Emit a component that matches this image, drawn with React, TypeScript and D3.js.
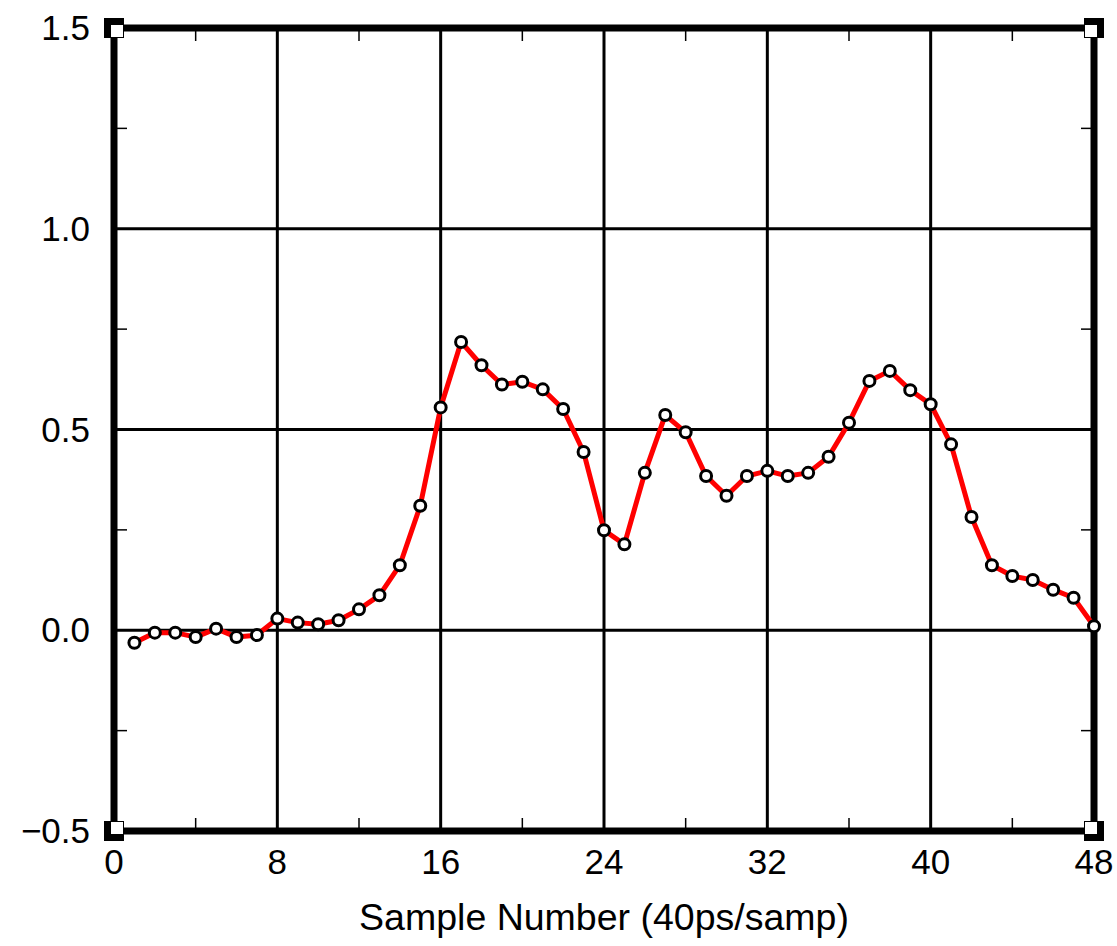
import React from "react";
import * as d3 from "d3";

const samples = d3.range(1, 49);
const values = [
  -0.031, -0.006, -0.006, -0.017, 0.004, -0.017, -0.012, 0.029, 0.019, 0.015,
  0.025, 0.052, 0.087, 0.162, 0.31, 0.555, 0.718, 0.66, 0.612, 0.619,
  0.6, 0.551, 0.444, 0.249, 0.214, 0.392, 0.536, 0.493, 0.384, 0.335,
  0.384, 0.397, 0.384, 0.392, 0.432, 0.517, 0.621, 0.646, 0.598, 0.563,
  0.463, 0.282, 0.162, 0.135, 0.125, 0.101, 0.081, 0.01,
];
const xMajor = [0, 8, 16, 24, 32, 40, 48];
const xMinor = [4, 12, 20, 28, 36, 44];
const yMajor = [-0.5, 0, 0.5, 1.0, 1.5];
const yMinor = [-0.25, 0.25, 0.75, 1.25];
const xTitle = "Sample Number (40ps/samp)";

const W = 1117;
const H = 946;
const L = 114, R = 1094, T = 28, B = 831;

export default function App() {
  const x = d3.scaleLinear().domain([0, 48]).range([L, R]);
  const y = d3.scaleLinear().domain([-0.5, 1.5]).range([B, T]);
  const pts: [number, number][] = samples.map((s, i) => [s, values[i]]);
  const line = d3.line<[number, number]>().x((d) => x(d[0])).y((d) => y(d[1]));
  const font = "'Liberation Sans', Arial, sans-serif";
  const fmtY = (v: number) => (v < 0 ? "\u2212" + Math.abs(v).toFixed(1) : v.toFixed(1));
  const corners: [number, number, number, number][] = [
    [L, T, 1, 1],
    [R, T, -1, 1],
    [L, B, 1, -1],
    [R, B, -1, -1],
  ];
  return (
    <svg
      width={W}
      height={H}
      style={{ position: "absolute", left: 0, top: 0, display: "block", background: "#fff" }}
    >
      {/* grid */}
      {xMajor.filter((v) => v > 0 && v < 48).map((v) => (
        <line key={"gx" + v} x1={x(v)} x2={x(v)} y1={T} y2={B} stroke="#000" strokeWidth={3} />
      ))}
      {yMajor.filter((v) => v > -0.5 && v < 1.5).map((v) => (
        <line key={"gy" + v} x1={L} x2={R} y1={y(v)} y2={y(v)} stroke="#000" strokeWidth={3} />
      ))}
      {/* minor ticks */}
      {xMinor.map((v) => (
        <g key={"mx" + v}>
          <line x1={x(v)} x2={x(v)} y1={T} y2={T + 13} stroke="#000" strokeWidth={1.5} />
          <line x1={x(v)} x2={x(v)} y1={B} y2={B - 13} stroke="#000" strokeWidth={1.5} />
        </g>
      ))}
      {yMinor.map((v) => (
        <g key={"my" + v}>
          <line x1={L} x2={L + 13} y1={y(v)} y2={y(v)} stroke="#000" strokeWidth={1.5} />
          <line x1={R} x2={R - 13} y1={y(v)} y2={y(v)} stroke="#000" strokeWidth={1.5} />
        </g>
      ))}
      {/* frame */}
      <rect x={L} y={T} width={R - L} height={B - T} fill="none" stroke="#000" strokeWidth={7} />
      {corners.map(([cx, cy, dx, dy], i) => (
        <g key={"c" + i}>
          <rect x={cx - 10} y={cy - 10} width={20} height={20} fill="#000" />
          <rect
            x={dx > 0 ? cx - 3 : cx - 9}
            y={dy > 0 ? cy - 3 : cy - 9}
            width={12}
            height={12}
            fill="#fff"
          />
        </g>
      ))}
      {/* data */}
      <path d={line(pts) || ""} fill="none" stroke="#ff0000" strokeWidth={5} strokeLinejoin="round" />
      {pts.map((d, i) => (
        <circle key={"p" + i} cx={x(d[0])} cy={y(d[1])} r={5.5} fill="#fff" stroke="#000" strokeWidth={3} />
      ))}
      {/* tick labels */}
      {xMajor.map((v) => (
        <text key={"tx" + v} x={x(v)} y={874} textAnchor="middle" fontFamily={font} fontSize={35} fill="#000">
          {v}
        </text>
      ))}
      {yMajor.map((v) => (
        <text key={"ty" + v} x={90} y={y(v) + 12} textAnchor="end" fontFamily={font} fontSize={35} fill="#000">
          {fmtY(v)}
        </text>
      ))}
      <text x={(L + R) / 2} y={930} textAnchor="middle" fontFamily={font} fontSize={37.5} fill="#000">
        {xTitle}
      </text>
    </svg>
  );
}
